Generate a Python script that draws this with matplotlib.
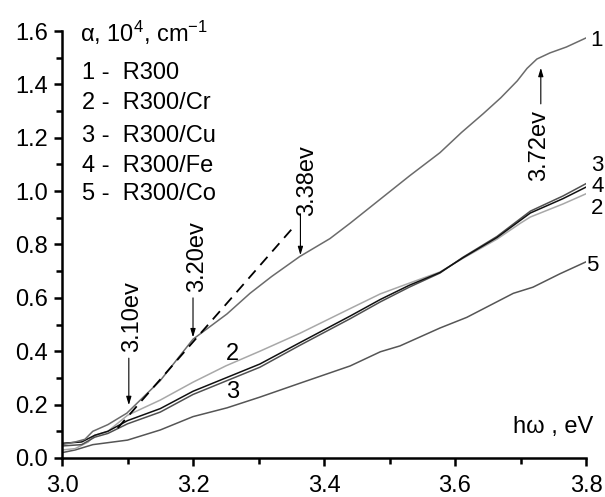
import matplotlib
matplotlib.use("Agg")
import matplotlib.pyplot as plt
from matplotlib.ticker import MultipleLocator

plt.rcParams['font.family'] = ['Liberation Sans', 'DejaVu Sans']
plt.rcParams['mathtext.fontset'] = 'custom'
plt.rcParams['mathtext.rm'] = 'Liberation Sans'
plt.rcParams['mathtext.it'] = 'Liberation Sans'

# ---- data ----
x1 = [3.000, 3.020, 3.035, 3.047, 3.070, 3.099, 3.150, 3.200, 3.252, 3.287, 3.320,
      3.363, 3.409, 3.440, 3.486, 3.531, 3.577, 3.610, 3.643, 3.670, 3.695, 3.710,
      3.725, 3.745, 3.770, 3.800]
y1 = [0.050, 0.060, 0.070, 0.100, 0.125, 0.168, 0.290, 0.445, 0.540, 0.617, 0.680,
      0.755, 0.822, 0.880, 0.970, 1.058, 1.144, 1.220, 1.290, 1.350, 1.413, 1.460,
      1.495, 1.518, 1.540, 1.574]

x2 = [3.000, 3.020, 3.040, 3.050, 3.070, 3.100, 3.150, 3.200, 3.250, 3.302, 3.363,
      3.440, 3.486, 3.530, 3.577, 3.612, 3.664, 3.700, 3.715, 3.765, 3.800]
y2 = [0.030, 0.035, 0.060, 0.085, 0.100, 0.160, 0.217, 0.284, 0.345, 0.400, 0.467,
      0.560, 0.615, 0.655, 0.697, 0.748, 0.820, 0.880, 0.903, 0.952, 0.990]

x3 = [3.000, 3.030, 3.050, 3.070, 3.100, 3.150, 3.200, 3.250, 3.302, 3.363, 3.440,
      3.486, 3.530, 3.577, 3.612, 3.664, 3.715, 3.765, 3.800]
y3 = [0.045, 0.050, 0.078, 0.092, 0.128, 0.172, 0.238, 0.288, 0.340, 0.422, 0.522,
      0.585, 0.640, 0.693, 0.752, 0.830, 0.925, 0.982, 1.028]

x4 = [3.000, 3.030, 3.050, 3.070, 3.100, 3.150, 3.200, 3.250, 3.302, 3.363, 3.440,
      3.486, 3.530, 3.577, 3.612, 3.664, 3.715, 3.765, 3.800]
y4 = [0.055, 0.060, 0.085, 0.100, 0.140, 0.185, 0.250, 0.300, 0.352, 0.432, 0.532,
      0.594, 0.647, 0.695, 0.750, 0.826, 0.918, 0.972, 1.015]

x5 = [3.000, 3.020, 3.047, 3.100, 3.150, 3.200, 3.252, 3.302, 3.363, 3.440, 3.486,
      3.516, 3.577, 3.618, 3.689, 3.719, 3.760, 3.800]
y5 = [0.020, 0.030, 0.050, 0.067, 0.105, 0.155, 0.188, 0.228, 0.280, 0.345, 0.398,
      0.420, 0.487, 0.527, 0.617, 0.640, 0.690, 0.735]

dash_x = [3.085, 3.353]
dash_y = [0.112, 0.864]

legend_labels = ["1 -  R300", "2 -  R300/Cr", "3 -  R300/Cu", "4 -  R300/Fe", "5 -  R300/Co"]

# arrows: (x, y_tail, y_head, label, text_x, text_y)
arrows = [
    (3.102, 0.374, 0.198, "3.10ev", 3.107, 0.53),
    (3.200, 0.600, 0.452, "3.20ev", 3.206, 0.755),
    (3.364, 0.915, 0.760, "3.38ev", 3.374, 1.04),
    (3.731, 1.327, 1.462, "3.72ev", 3.729, 1.17),
]

# ---- figure ----
fig = plt.figure(figsize=(6.05, 4.97), dpi=100)
ax = fig.add_axes([0.1025, 0.0785, 0.8661, 0.8591])

ax.plot(x5, y5, color='#555555', lw=1.1)
ax.plot(x2, y2, color='#a8a8a8', lw=1.1)
ax.plot(x3, y3, color='#505050', lw=1.1)
ax.plot(x4, y4, color='#111111', lw=1.1)
ax.plot(x1, y1, color='#6b6b6b', lw=1.1)
ax.plot(dash_x, dash_y, color='black', lw=1.3, dashes=(6, 4))

ax.set_xlim(3.0, 3.8)
ax.set_ylim(0.0, 1.6)
ax.xaxis.set_major_locator(MultipleLocator(0.2))
ax.xaxis.set_minor_locator(MultipleLocator(0.1))
ax.yaxis.set_major_locator(MultipleLocator(0.2))
ax.yaxis.set_minor_locator(MultipleLocator(0.1))
ax.xaxis.set_major_formatter(plt.FuncFormatter(lambda v, p: f"{v:.1f}"))
ax.yaxis.set_major_formatter(plt.FuncFormatter(lambda v, p: f"{v:.1f}"))

for s in ['top', 'right']:
    ax.spines[s].set_visible(False)
for s in ['left', 'bottom']:
    ax.spines[s].set_linewidth(1.8)
ax.tick_params(axis='y', which='major', direction='out', length=6, width=1.8, labelsize=17, pad=4)
ax.tick_params(axis='x', which='major', direction='out', length=6, width=1.8, labelsize=17, pad=6)
ax.tick_params(which='minor', direction='out', length=4, width=1.8)

fs = 17
for (x, yt, yh, lab, tx, ty) in arrows:
    ax.annotate('', xy=(x, yh), xytext=(x, yt),
                arrowprops=dict(arrowstyle='-|>,head_length=0.5,head_width=0.15',
                                color='black', lw=0.8, shrinkA=0, shrinkB=0))
    ax.text(tx, ty, lab, rotation=90, ha='center', va='center', fontsize=fs)

ax.text(3.0275, 1.593, 'α, 10$^4$, cm$^{-1}$', ha='left', va='center', fontsize=fs)
leg_y = [1.443, 1.331, 1.207, 1.095, 0.990]
for lab, yy in zip(legend_labels, leg_y):
    ax.text(3.031, yy, lab, ha='left', va='center', fontsize=fs)

ax.text(3.26, 0.39, "2", ha='center', va='center', fontsize=fs)
ax.text(3.261, 0.247, "3", ha='center', va='center', fontsize=fs)

rfs = 16
ax.text(3.806, 1.566, "1", ha='left', va='center', fontsize=rfs, clip_on=False)
ax.text(3.808, 1.097, "3", ha='left', va='center', fontsize=rfs, clip_on=False)
ax.text(3.808, 1.018, "4", ha='left', va='center', fontsize=rfs, clip_on=False)
ax.text(3.808, 0.936, "2", ha='left', va='center', fontsize=rfs, clip_on=False)
ax.text(3.800, 0.723, "5", ha='left', va='center', fontsize=rfs, clip_on=False)

ax.text(3.689, 0.116, "hω , eV", ha='left', va='center', fontsize=fs)

fig.savefig("out.png", dpi=100)
